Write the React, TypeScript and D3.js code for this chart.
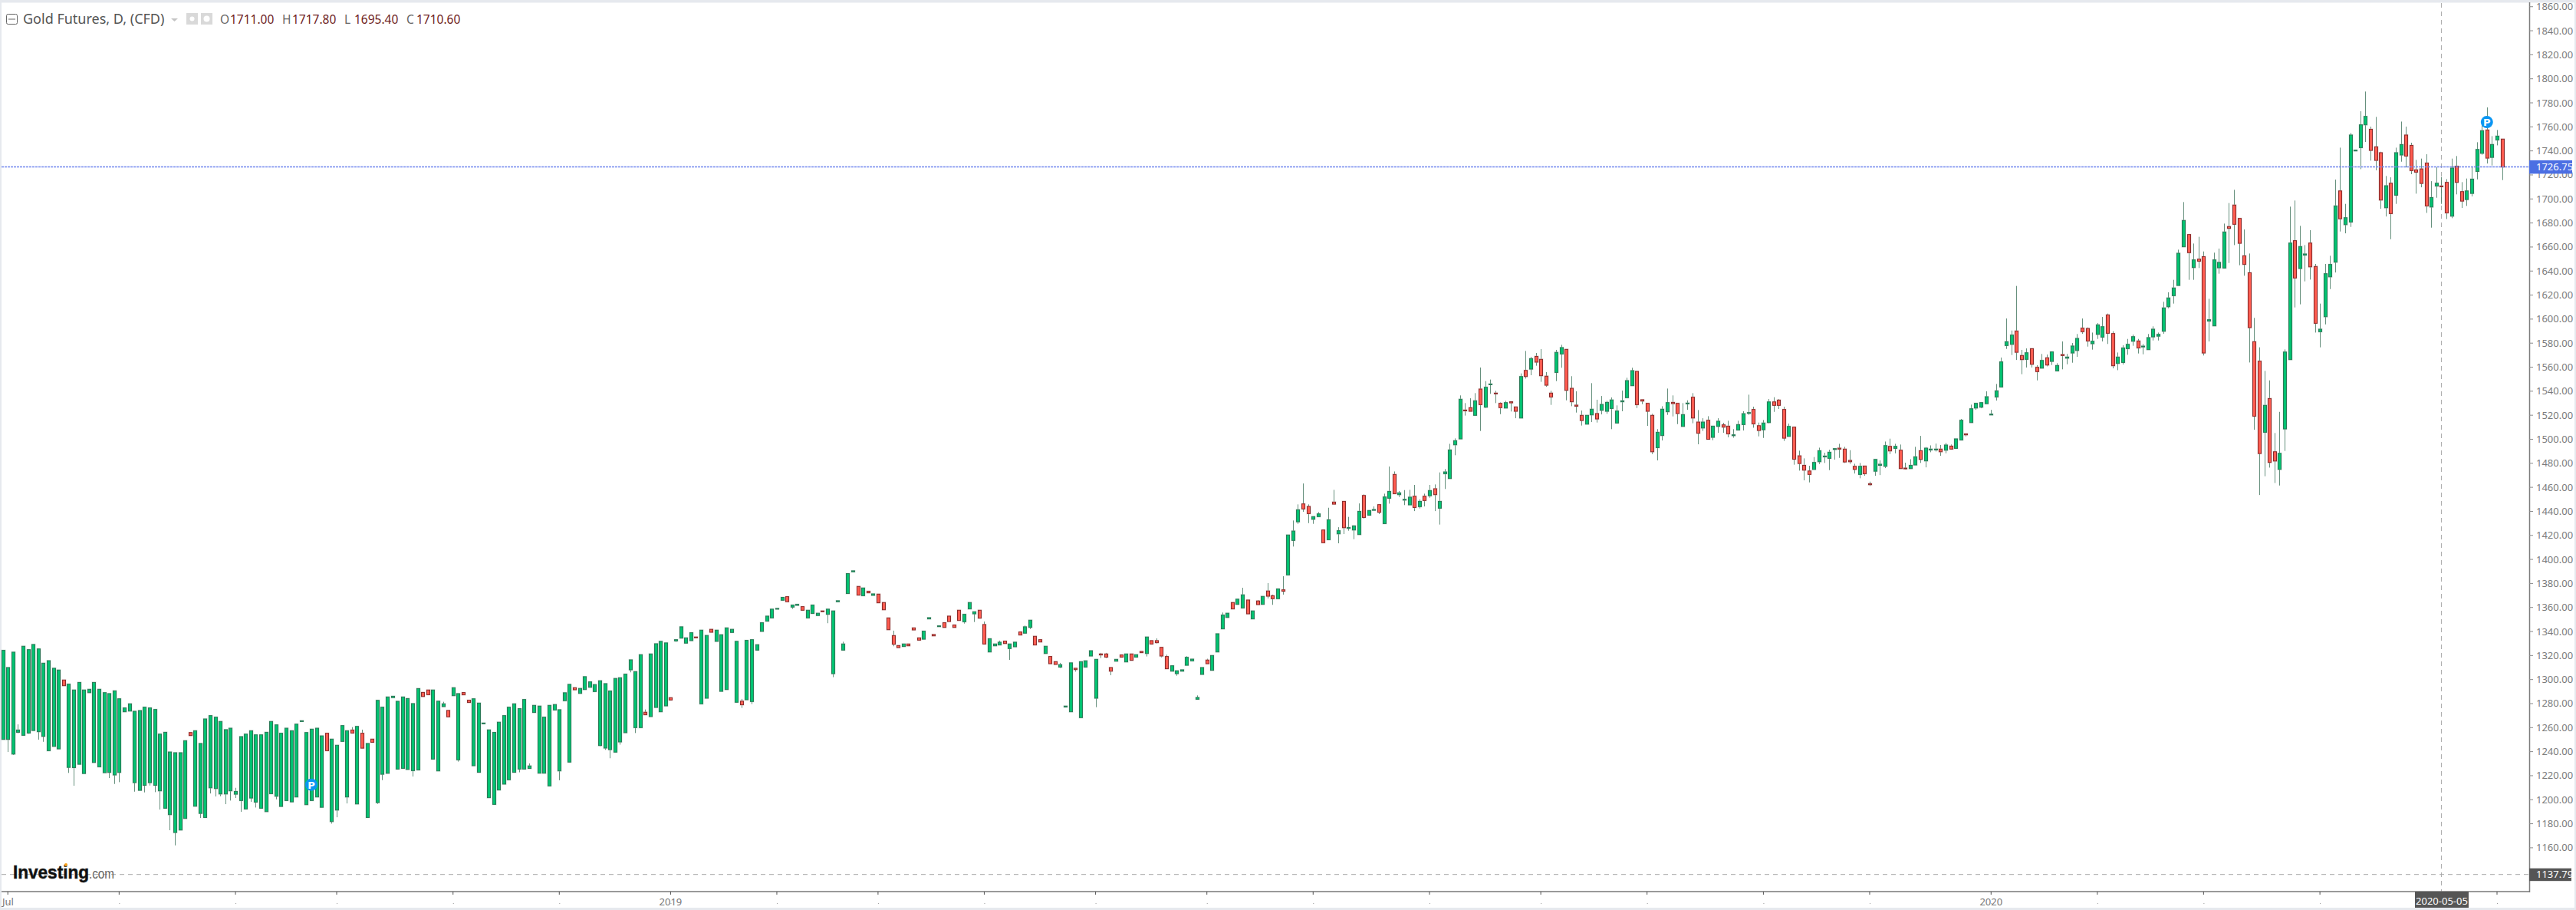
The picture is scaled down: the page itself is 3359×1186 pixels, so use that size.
import * as React from 'react'
import * as d3 from 'd3'

// rows are [open, high, low, close]
type Bar = number[]

const bars2018: Bar[] = [
  [1250.2,1324.3,1250.2,1324.3],[1250.2,1310,1239.7,1310],[1238,1322.8,1237.2,1322.8],[1256.1,1262.7,1255.3,1258],[1253.6,1327.7,1253.6,1327.7],
  [1255.5,1324.9,1254.9,1324.9],[1257.6,1329.2,1257.6,1329.2],[1256.6,1325.5,1250,1325.5],[1252.7,1313.6,1248.2,1313.6],[1240.8,1315.7,1240.8,1315.7],
  [1244.4,1309.4,1244.4,1309.4],[1242.3,1307.9,1242.3,1307.9],[1299.6,1299.6,1294.9,1294.9],[1226.9,1296.2,1222.3,1296.2],[1226.7,1291.3,1211.6,1291.3],
  [1229.5,1297.6,1229.5,1297.6],[1221.8,1291.3,1221.8,1291.3],[1289.1,1291.9,1289.1,1291.9],[1231,1297.6,1231,1297.6],[1227.4,1291.9,1227.4,1291.9],
  [1222.5,1289.1,1222.5,1289.1],[1222.7,1288.3,1218,1288.3],[1220.6,1290.6,1213.1,1290.6],[1222.7,1284,1214.6,1284],[1273.2,1276.4,1273.2,1276.4],
  [1273.8,1279.8,1273.8,1279.8],[1214.2,1273.6,1206.7,1273.6],[1207.8,1274.2,1207.8,1274.2],[1212,1277,1206.1,1277],[1214.2,1276.4,1211.8,1276.4],
  [1212,1275.1,1206.3,1275.1],[1207.4,1254.6,1191.8,1254.6],[1192.9,1256.1,1192.9,1256.1],[1187.6,1239.7,1174.6,1239.7],[1172.7,1239.1,1162,1239.1],
  [1174.8,1239.1,1174.8,1239.1],[1184.4,1249.1,1184.4,1249.1],[1255.9,1255.9,1253.4,1253.4],[1194.6,1257.4,1194.6,1257.4],[1188.6,1246.8,1184.8,1246.8],
  [1185.2,1267.2,1185.2,1267.2],[1209.9,1270,1205.2,1270],[1209.3,1268.7,1202.7,1268.7],[1204.8,1265.1,1202.9,1265.1],[1204.8,1258.3,1196.3,1258.3],
  [1207.4,1259.5,1199.3,1259.5],[1204.6,1209.9,1201.4,1206.9],[1199.3,1252.5,1189.9,1252.5],[1192.3,1254.6,1192.3,1254.6],[1201.4,1257.4,1198.2,1257.4],
  [1198,1254,1193.5,1254],[1192.9,1254,1192.9,1254],[1190.1,1256.1,1190.1,1256.1],[1205,1265.1,1205,1265.1],[1202.9,1262.3,1200.3,1262.3],
  [1194.4,1255.3,1194.4,1255.3],[1199.3,1259.5,1199.3,1259.5],[1198.2,1257.4,1198.2,1257.4],[1202.3,1262.9,1202.3,1262.9],[1265.5,1265.7,1265.5,1265.7],
  [1195.9,1255.9,1195.9,1255.9],[1199.3,1258.7,1199.3,1258.7],[1202.3,1259.5,1202.3,1259.5],[1193.7,1253.1,1193.7,1253.1],[1255.3,1255.3,1240.8,1240.8],
  [1181.8,1250.4,1180.1,1250.4],[1191.4,1245.3,1185.4,1245.3],[1248.5,1261.7,1248.5,1261.7],[1202.3,1257.4,1196.9,1257.4],[1258,1260.4,1255.5,1255.5],
  [1196.5,1261,1196.5,1261],[1255.3,1258.3,1242.9,1242.9],[1185.2,1246.8,1185.2,1246.8],[1250.4,1250.4,1247.8,1247.8],[1197.6,1282.7,1196.5,1282.7],
  [1221.2,1277,1216.3,1277],[1222,1285.5,1222,1285.5],[1285,1286.1,1285,1286.1],[1225.5,1281.9,1225.5,1281.9],[1226.1,1285.5,1226.1,1285.5],
  [1225.2,1284.2,1225.2,1284.2],[1224.2,1280,1219.3,1280],[1224.8,1292.5,1224.8,1292.5],[1289.3,1289.3,1285.9,1285.9],[1291.3,1291.3,1287.4,1287.4],
  [1233.8,1291.3,1233.8,1291.3],[1224,1282,1224,1282],[1277.5,1281.5,1277.5,1279.8],[1274.3,1274.3,1269,1269],[1286.6,1293.2,1286.6,1293.2],
  [1233.2,1288.3,1231.7,1288.3],[1289.2,1289.2,1287.3,1287.3],[1282.8,1282.8,1280.9,1280.9],[1228.3,1284,1228.3,1284],[1222.8,1280.4,1222.8,1280.4],
  [1263.4,1263.8,1263.4,1263.8],[1201.7,1258.1,1201.7,1258.1],[1196.1,1256,1196.1,1256],[1208.1,1264.5,1208.1,1264.5],[1213,1270,1213,1270],
  [1216.6,1277,1216.6,1277],[1222.8,1279.8,1222.8,1279.8],[1225.5,1275.8,1222.8,1275.8],[1225.5,1283.4,1225.5,1283.4],[1226,1230.2,1226,1228.1],
  [1272.6,1278.5,1272.6,1278.5],[1222.1,1277.9,1222.1,1277.9],[1222.1,1268.7,1222.1,1268.7],[1211.5,1278.5,1211.5,1278.5],[1274.7,1279.2,1274.7,1279.2],
  [1224,1274.9,1216.2,1274.9],[1282.4,1289,1282.4,1289],[1231.3,1296,1231.3,1296],[1293.2,1293.2,1291.5,1291.5],[1288.5,1292.6,1288.5,1292.6],
  [1291.7,1302.4,1291.7,1302.4],[1293.6,1298.1,1293.6,1298.1],[1290,1295.8,1290,1295.8],[1245.1,1299,1244.5,1299],[1243,1296.6,1241.5,1296.6],
  [1241.7,1290.5,1234.5,1290.5],[1239.6,1300.9,1239.6,1300.9],[1248.1,1301.5,1245.8,1301.5],[1255.8,1304.5,1255.8,1304.5],[1308.1,1316.4,1306,1316.4],
  [1260,1306.6,1255.5,1306.6],[1260,1320.7,1260,1320.7],[1272.8,1275.1,1270.7,1270.7],[1269.2,1321.3,1269.2,1321.3],[1276.8,1329.8,1276.8,1329.8],
  [1273.2,1331.8,1273.2,1331.8],[1278.1,1330.5,1278.1,1330.5],
]

const bars2019a: Bar[] = [
  [1284.9,1284.9,1283,1283],[1332.2,1333.2,1331.3,1333.2],[1334.5,1343.9,1334.5,1343.9],[1330.3,1334.7,1330.3,1334.7],[1332.4,1339,1332.4,1339],
  [1335.4,1335.4,1335,1335],[1279.8,1341.1,1279.8,1341.1],[1284.5,1336.7,1284.5,1336.7],[1341.8,1341.8,1339.4,1339.4],[1331.8,1341.1,1331.8,1341.1],
  [1290.2,1337.3,1290.2,1337.3],[1291.7,1343,1291.7,1343],[1339.2,1341.8,1339.2,1341.8],[1281.1,1331.8,1281.1,1331.8],[1282,1283.9,1276.4,1279],
  [1283.2,1332.6,1283.2,1332.6],[1281.7,1333.2,1279.6,1333.2],[1324.5,1329,1324.5,1329],[1340.1,1347.3,1340.1,1347.3],[1348.6,1352.8,1348.6,1352.8],
  [1351.3,1358.6,1351.3,1358.6],[1359,1359.2,1359,1359.2],[1366,1368.4,1366,1368.4],[1369,1369,1364.8,1364.8],[1360.3,1362,1358.8,1362],
  [1361.8,1362.6,1361.8,1362.6],[1360.7,1360.7,1357.7,1357.7],[1351.3,1357.7,1351.3,1357.7],[1355,1362,1355,1362],[1353.3,1355.2,1353.3,1355.2],
  [1357.1,1357.1,1356.9,1356.9],[1354.3,1358.6,1346.9,1358.6],[1304.9,1357.1,1302,1357.1],[1364.8,1365.6,1364.8,1365.6],[1324.5,1331.5,1324.5,1329.6],
  [1371.6,1388.2,1371.6,1388.2],[1389.7,1390.5,1389.7,1390.5],[1377.5,1377.5,1370.3,1370.3],[1369.8,1376.2,1369.8,1376.2],[1373.5,1373.5,1372.2,1372.2],
  [1370.1,1371.3,1370.1,1371.3],[1371.1,1371.1,1363.9,1363.9],[1364.1,1364.1,1358.1,1358.1],[1351.3,1351.3,1341.5,1341.5],[1336.6,1340.7,1327.7,1329.4],
  [1328.3,1328.3,1326.6,1326.6],[1327.5,1329.6,1327.5,1329.6],[1329.6,1329.6,1328.1,1328.1],[1343,1343,1341.3,1341.3],[1334.7,1334.7,1332.8,1332.8],
  [1333.6,1340.3,1333.6,1340.3],[1350.5,1351.5,1350.5,1351.5],[1337.5,1337.5,1336.4,1336.4],[1344.1,1344.7,1344.1,1344.7],[1347.3,1347.3,1343.4,1343.4],
  [1352.8,1352.8,1348.3,1348.3],[1345.4,1345.4,1343.4,1343.4],[1357.7,1357.7,1349.2,1349.2],[1348.1,1354.3,1346.6,1354.3],[1358.8,1364.1,1358.8,1364.1],
  [1354.7,1356.4,1347.9,1356.4],[1357.7,1357.7,1351.1,1351.1],[1345.8,1348.3,1329.6,1329.6],[1323,1334,1323,1334],[1328.1,1329.6,1328.1,1329.6],
  [1328.8,1332.4,1328.8,1331.1],[1332,1332,1330,1330],[1325.8,1329.6,1316.4,1329.6],[1327.3,1331.1,1327.3,1331.1],[1339.6,1339.6,1337.1,1337.1],
  [1338.6,1344.9,1338.6,1343.9],[1343.4,1349.4,1342,1349.4],[1336,1336,1328.8,1328.8],[1333.2,1333.2,1331.3,1331.3],[1321.7,1327.7,1321.7,1327.7],
  [1319.2,1319.2,1313.2,1313.2],[1314.9,1314.9,1312.6,1312.6],[1310.4,1313.9,1309.6,1312.4],[1277.2,1277.9,1277.2,1277.9],[1273.2,1313.9,1273.2,1313.9],
  [1309.4,1309.4,1306.6,1308.3],[1268.3,1314.9,1268.3,1314.9],[1310.4,1315.6,1310.4,1315.6],[1319.6,1324,1319.6,1324],[1284.5,1316.8,1277,1316.8],
  [1321.3,1322.2,1317.9,1320.5],[1321.3,1322.2,1317.9,1318.7],[1310,1310,1303.6,1307],[1315.3,1316.8,1315.3,1316.8],[1320.5,1320.5,1318.7,1318.7],
  [1314.7,1321.3,1314.7,1321.3],[1321.3,1321.3,1316,1316],[1318.7,1320.7,1318.7,1320.7],[1323.4,1323.4,1322.4,1322.4],[1321.7,1335.4,1319.2,1335.4],
  [1332.4,1332.4,1329.6,1329.6],[1332.4,1334.3,1330,1330.7],[1326.8,1326.8,1318.5,1319.6],[1319.2,1320.7,1309,1309],[1307,1311.5,1307,1311.5],
  [1304.9,1307.3,1303.2,1307.3],[1307,1308.1,1307,1308.1],[1311.9,1319.4,1311.9,1318.5],[1315.6,1317,1315.6,1317],[1283.6,1286.8,1283.6,1285.1],
  [1304.3,1310,1304.3,1310],[1316.2,1317.3,1313.2,1313.2],[1307.7,1320,1307.7,1320],[1323,1338.1,1323,1338.1],[1342.2,1355.8,1342.2,1353.7],
  [1351.7,1355.2,1351.7,1355.2],[1364.1,1364.1,1358.8,1358.8],[1362.6,1366.9,1362.6,1366.9],[1359.6,1376.4,1359.6,1370.5],[1366.2,1366.2,1354.7,1354.7],
  [1350.5,1357.1,1350.5,1357.1],[1365.4,1366.2,1362.4,1362.4],[1362.6,1369.2,1362.6,1369.2],[1373.7,1380.3,1367.5,1369.4],[1369.8,1370.7,1362.2,1367.3],
  [1367.3,1375.4,1367.3,1375.4],[1374.7,1386,1370.7,1373.5],[1387.1,1420.3,1387.1,1420.3],
]

const bars2019b: Bar[] = [
  [1415.8,1432.4,1410.7,1423.6],[1431.3,1445.8,1429.6,1441.3],[1446.2,1463.2,1439.6,1442],[1444.1,1445.8,1430.2,1438.1],[1433.4,1435.6,1429.6,1435.6],
  [1435.6,1439.4,1435.6,1437.9],[1424.5,1424.5,1413.9,1413.9],[1416.4,1443,1416.4,1433],[1447.7,1457.9,1446,1446],[1421.3,1426.8,1413.4,1423.9],
  [1448.3,1448.3,1421.1,1426.4],[1425.8,1435.4,1423.9,1426.6],[1424.5,1428.3,1416.8,1427.9],[1420.7,1446.6,1420.7,1440],[1453.2,1454.1,1434,1434.9],
  [1436.8,1440.7,1436.8,1440.7],[1441.1,1444.1,1441.1,1441.5],[1445.6,1445.6,1437.7,1439.2],[1429.8,1454.7,1429.8,1452],[1450.9,1477.3,1446.4,1456.6],
  [1470.7,1473.2,1454.7,1454.7],[1453.9,1456.9,1452,1455.4],[1449.4,1457.7,1445.2,1450],[1445.4,1457.9,1445.4,1451.8],[1452.6,1462,1440.2,1443.2],
  [1443.9,1450,1442.4,1448.3],[1452.6,1454.7,1444.1,1449],[1453,1462,1451.3,1457.3],[1458.8,1462.4,1440.2,1453.9],[1442.6,1472.4,1429,1448.3],
  [1471.3,1475.2,1458.6,1472.8],[1467.3,1496.2,1467.3,1491.1],[1495.4,1500.7,1486.7,1498.8],[1500.3,1536.5,1500.3,1533.3],[1524.3,1530.1,1519.7,1523.7],
  [1526.3,1534.1,1523.3,1523.3],[1519.9,1538.4,1519.9,1532],[1541.8,1559.7,1506.9,1528.8],[1526.7,1548.4,1526,1543.3],[1545.6,1549.7,1537.8,1546],
  [1538.4,1540.3,1530.1,1538],[1529.9,1530.7,1520.9,1526.3],[1526,1532,1526,1530.5],[1531.2,1531.2,1523.1,1530.3],[1526.9,1526.9,1517.5,1523.3],
  [1517.7,1554.8,1517.7,1552.2],[1557.3,1573.5,1550.5,1552.2],[1558.4,1568.6,1553.3,1567.1],[1569,1571.8,1561.2,1564.2],[1566.5,1575,1547.8,1552.9],
  [1552.5,1555.9,1543.7,1545],[1538.4,1540.3,1528.6,1535.2],[1555.6,1574.4,1548.4,1572.3],[1571,1578.6,1559.5,1576.3],[1574.8,1574.8,1532.4,1540.7],
  [1542.4,1552.5,1527.5,1531.2],[1528.4,1539.9,1522.2,1527.5],[1519.9,1523.9,1511.4,1515.6],[1512.6,1519.9,1512.6,1519.9],[1520.3,1546.7,1514.3,1525],
  [1521.4,1532.9,1513.9,1516.9],[1524.1,1536,1520.7,1529],[1523.3,1532,1521.2,1530.7],[1525.6,1534.8,1508.4,1532.7],[1513.5,1528.2,1513.5,1523.5],
  [1531.2,1540.5,1523.3,1532],[1534.6,1551.2,1534.6,1548.8],[1544.6,1559.5,1544.6,1557.1],[1556.5,1556.5,1526,1528.8],[1532.9,1532.9,1529.2,1531.8],
  [1529.9,1529.9,1511.1,1523.3],[1519.9,1521.2,1487.7,1489.6],[1493,1508.4,1482.4,1505.8],[1503.1,1527.5,1499,1525],[1522.9,1542.2,1520.3,1530.5],
  [1530.7,1536.5,1519,1529.7],[1529.9,1529.9,1512.6,1521.4],[1510.7,1530.1,1510.7,1520.5],[1529.6,1532.4,1524.5,1530.1],[1535,1538.4,1513.3,1517.7],
  [1514.3,1524.3,1495.8,1505],[1509.4,1517.5,1506.9,1514.3],[1515.8,1519.2,1500,1500],[1501.6,1510.9,1499.2,1510.9],[1510.7,1517.5,1505.4,1515],
  [1512,1513.7,1505.4,1510.1],[1510.9,1515.4,1501.6,1504.5],[1503,1508.4,1501.3,1503.7],[1507.7,1515.4,1507.7,1512.2],[1512.2,1523.3,1507.3,1521.3],
  [1521.8,1537.1,1520.3,1522.2],[1524.8,1527.1,1509.6,1512.8],[1511.3,1513.9,1502.4,1507.3],[1507.9,1516,1501.1,1513.5],[1513.9,1533.5,1513.3,1531.1],
  [1531.1,1535,1522.8,1528.2],[1532.6,1533.5,1525.2,1528.2],[1524.8,1527.1,1498.6,1500.9],[1502.4,1513,1502.4,1510.7],[1510.1,1510.1,1478.8,1483.4],
  [1486.2,1490.5,1473.9,1479.8],[1478.3,1484.1,1465.8,1474.3],[1473.6,1477.9,1464.1,1470.7],[1474.9,1485.2,1474.9,1480.7],[1481.3,1493,1479.4,1490.5],
  [1485.4,1488.8,1480.3,1486],[1484.1,1491.3,1474.3,1489.2],[1491.5,1492.6,1483,1492.2],[1492.6,1496.2,1484.5,1491.8],[1491.8,1493.7,1480.3,1481.1],
  [1482.4,1490.9,1479.6,1481.3],[1477.5,1479.6,1471.5,1474.9],[1470.7,1480.3,1467.5,1477.5],[1477.7,1477.7,1469.6,1471.3],[1463,1464.7,1461.1,1462.2],
  [1473.4,1483.2,1469.6,1483.2],[1478.3,1482.4,1470.2,1479.2],[1477.5,1498.1,1476,1494.7],[1494.1,1500.5,1487.7,1490.3],[1492.4,1496.2,1488.3,1494.1],
  [1490.9,1495.6,1475.6,1475.6],[1476,1480.5,1474.9,1475.4],[1475.6,1483.4,1475.6,1478.3],[1478.6,1493.7,1478.6,1485.4],[1490.5,1502.8,1480.3,1483.2],
  [1482,1493.5,1476.6,1492.6],[1491.1,1494.9,1489.2,1491.8],[1491.3,1496.4,1489.8,1491.8],[1491.8,1495.2,1486.2,1489.6],[1490.9,1496.9,1488.3,1495.2],
  [1494.3,1495.6,1491.8,1491.8],[1492.4,1500.3,1492.4,1500.3],[1499.4,1516.9,1499.4,1515.8],[1504.5,1504.5,1502.4,1503.7],[1513.9,1528.8,1513.9,1525.4],
  [1526,1529.9,1524.5,1529.9],[1526.7,1530.5,1525.8,1530.5],[1529.6,1539.9,1529.6,1535.4],
]

const bars2020: Bar[] = [
  [1520.3,1524.5,1520.3,1520.9],[1535.2,1546,1532.2,1540.3],[1543.5,1568,1543.5,1564.4],[1578,1600.5,1575.2,1581.2],[1579,1590.5,1570.1,1586.7],
  [1590.1,1627.6,1566,1572.4],[1569.7,1574.4,1554.1,1566.3],[1566.5,1575.6,1559.7,1572],[1575.4,1575.4,1559.7,1562.4],[1559.9,1561.6,1549,1556.3],
  [1559.2,1571,1559.2,1565.6],[1567.8,1570.5,1560.7,1561.8],[1564.8,1572.7,1561.8,1572.7],[1556.9,1563.3,1556.9,1561.4],[1570.5,1581.4,1558.2,1569.7],
  [1567.5,1571,1562.4,1568.4],[1571.8,1580.1,1563.7,1577.6],[1573.9,1587.6,1568.6,1583.9],[1592.5,1600.5,1587.8,1589.5],[1592.2,1593.1,1577.1,1581.8],
  [1579.5,1588.8,1574.6,1581.6],[1587.3,1596.7,1583.5,1595.2],[1585,1601.8,1581.4,1593.7],[1603.5,1604.6,1579.3,1588.2],[1588,1589.9,1559,1561.2],
  [1563.1,1572.2,1557.5,1568.4],[1563.9,1578.2,1562.2,1576],[1575.4,1583.5,1570.3,1579],[1581.6,1587.1,1577.8,1585.4],[1581.8,1583.5,1571.4,1576],
  [1576.9,1579.2,1570.7,1577.5],[1574.6,1587.6,1574.6,1584.6],[1585.2,1594,1582.2,1591.6],[1585.8,1588.8,1582.2,1587.3],[1589.9,1614.4,1587.8,1609.3],
  [1610.3,1622.3,1609,1617.6],[1619.5,1632.7,1612.9,1625.9],[1628,1657.8,1628,1654.8],[1660.2,1697.4,1660.2,1682.1],[1670.4,1670.4,1632.7,1655.3],
  [1642.9,1662.9,1632.7,1649.3],[1649.9,1668.5,1642.5,1648.2],[1652,1656.3,1569.7,1571.8],[1598.4,1616.9,1581.4,1599.5],[1594.4,1655.3,1594.4,1649.3],
  [1642.7,1658.7,1637.8,1647.2],[1642.5,1679.5,1642.5,1672.5],[1677,1696.6,1646.7,1675.5],[1694.9,1707.6,1661.6,1678.9],[1683.8,1683.8,1644.8,1663.1],
  [1652.7,1674.6,1636.1,1645.5],[1638.6,1654.6,1563.9,1592.9],[1581.2,1601,1507.9,1519.2],[1565,1576.5,1453.6,1488.1],[1505.8,1556.9,1469.2,1528.2],
  [1533.9,1549,1476.4,1480.7],[1489.6,1505.2,1463.6,1481.9],[1474.9,1522.8,1461.5,1488.3],[1508.6,1574.8,1490.3,1572.6],[1566.3,1693.6,1566.3,1663.3],
  [1665.3,1698.7,1609.7,1634.2],[1642.1,1677.6,1612.3,1660.4],[1653.3,1661.6,1631.4,1654.2],[1663.3,1674,1632.9,1643.5],[1643.8,1645.9,1588.8,1596.5],
  [1589.5,1612.9,1576.5,1591.6],[1602,1645.9,1595.6,1637.8],[1635.2,1652.7,1625,1645.5],[1647.4,1716.1,1638.8,1694.2],[1706.7,1742.7,1672.9,1683.5],
  [1678.6,1695.9,1671.4,1684.4],[1680.8,1754.9,1676.7,1753.2],[1740.2,1740.6,1740.2,1740.6],[1742.7,1773,1724.8,1761.7],[1761.7,1789.4,1747.4,1768.7],
  [1758,1760.2,1731.9,1740.4],[1743.4,1768.3,1723.8,1732.1],[1738.5,1739.3,1691.8,1699.1],[1692.7,1719.1,1685.4,1711],[1713.1,1718,1666.5,1687.8],
  [1703.1,1742.7,1695.9,1738.5],[1736.6,1764.4,1731,1745.3],[1753.2,1760.2,1726.3,1735.7],[1744.6,1746.8,1720.6,1723.6],[1724.2,1732.5,1704.4,1722.3],
  [1725,1733.6,1709.7,1712.9],[1729.9,1737.2,1688.4,1694.2],[1693.3,1714.8,1676.1,1701.2],[1710.8,1726.3,1701,1713.1],[1710.8,1718.2,1695.9,1710.2],
  [1713.8,1716.5,1683.3,1688.4],[1685.7,1733.6,1684,1725.7],[1727.2,1735.7,1703.8,1713.8],[1706.1,1714,1692.5,1698.2],[1699.5,1717,1694.2,1706.7],
  [1704.6,1726.8,1702.1,1716.5],[1722.9,1747.2,1716.3,1741.2],[1738,1761.9,1736.8,1756.8],[1757.4,1776.2,1729.5,1734],[1734.6,1752.3,1727.8,1745.3],
  [1749.1,1757.4,1744.6,1752.3],[1749.8,1749.8,1715.7,1726.6],
]

const bars = [...bars2018, ...bars2019a, ...bars2019b, ...bars2020]

const priceTicks = d3.range(1160, 1861, 20)
const monthTicks = [1, 23, 46, 66, 89, 110, 132, 153, 173, 194, 216, 238, 259, 282, 304, 325, 348, 369, 393, 414, 435, 458, 479, 493]
const monthLabels = [{ index: 132, text: '2019' }, { index: 393, text: '2020' }]
const pMarkers = [{ index: 61, price: 1212.5 }, { index: 491, price: 1764 }]
const ohlcLegend = [['O', '1711.00'], ['H', '1717.80'], ['L', '1695.40'], ['C', '1710.60']]
const lastPrice = 1726.75
const lowPrice = 1137.79
const crossIndex = 482

const W = 3359
const H = 1186
const plotRight = 3298
const plotBottom = 1162
const font = 'Tahoma, "Noto Sans", sans-serif'

const x = d3.scaleLinear().domain([0, 494]).range([3.6, 3262.6])
const y = d3.scaleLinear().domain([1160, 1800]).range([1104.9, 102.7])

const UP = { fill: '#03c271', stroke: '#2a7a57', halo: '#a9c7b9' }
const DOWN = { fill: '#ff5c50', stroke: '#8a2b2b', halo: '#d9b3af' }

const Candle = ({ bar, index }: { bar: Bar; index: number }) => {
  const [o, h, l, c] = bar
  const style = c >= o ? UP : DOWN
  const cx = Math.round(x(index))
  const top = y(Math.max(o, c))
  const bottom = y(Math.min(o, c))
  return (
    <g>
      <line x1={cx + 0.5} x2={cx + 0.5} y1={y(h)} y2={y(l)} stroke="#4b7c66" strokeOpacity={0.85} />
      <rect x={cx - 2.5} y={top - 1} width={6} height={bottom - top + 2} fill={style.halo} fillOpacity={0.5} />
      <rect x={cx - 1.5} y={top} width={4} height={Math.max(bottom - top, 1)} fill={style.fill} stroke={style.stroke} />
    </g>
  )
}

const App = () => {
  return (
    <svg width={W} height={H} style={{ position: 'absolute', left: 0, top: 0, display: 'block' }} fontFamily={font}>
      <rect width={W} height={H} fill="#ffffff" />
      {/* page frame */}
      <rect width={W} height={3.5} fill="#e6e9ee" />
      <rect width={2} height={H} fill="#e6e9ee" />
      <rect y={1183} width={W} height={3} fill="#e6e9ee" />
      <rect x={3357} width={2} height={H} fill="#e6e9ee" />

      {/* crosshair and guide lines */}
      <line x1={x(crossIndex)} x2={x(crossIndex)} y1={4} y2={plotBottom} stroke="#a8a8a8" strokeDasharray="6 5" />
      <line x1={2} x2={plotRight} y1={y(lowPrice)} y2={y(lowPrice)} stroke="#a8a8a8" strokeDasharray="6 5" />

      {bars.map((bar, i) => <Candle key={i} bar={bar} index={i} />)}

      <line x1={2} x2={plotRight} y1={Math.round(y(lastPrice)) + 0.5} y2={Math.round(y(lastPrice)) + 0.5} stroke="#7489ee" strokeWidth={1.5} strokeDasharray="3 1" />

      {pMarkers.map((m) => (
        <g key={m.index} transform={`translate(${x(m.index)},${y(m.price)})`}>
          <circle r={8} fill="#0a96f2" />
          <text textAnchor="middle" y={5} fontSize={13} fontWeight={700} fill="#ffffff" fontFamily="DejaVu Sans">P</text>
        </g>
      ))}

      {/* right axis */}
      <line x1={plotRight + 0.5} x2={plotRight + 0.5} y1={3} y2={plotBottom + 1} stroke="#7c7c7c" strokeWidth={1.5} />
      {priceTicks.map((t) => (
        <g key={t}>
          <line x1={plotRight} x2={plotRight + 5} y1={y(t)} y2={y(t)} stroke="#8a8a8a" />
          <text x={3307} y={y(t) + 4.5} fontSize={13} fill="#7b7b7b">{t.toFixed(2)}</text>
        </g>
      ))}
      <rect x={plotRight} y={y(lastPrice) - 8.5} width={56} height={17.5} fill="#4c6fe3" />
      <text x={3307} y={y(lastPrice) + 5} fontSize={13} fill="#ffffff">{lastPrice.toFixed(2)}</text>
      <rect x={plotRight} y={y(lowPrice) - 8} width={55} height={16.5} fill="#555555" />
      <text x={3307} y={y(lowPrice) + 4.5} fontSize={13} fill="#ffffff">{lowPrice.toFixed(2)}</text>

      {/* bottom axis */}
      <line x1={2} x2={plotRight + 1} y1={plotBottom} y2={plotBottom} stroke="#777777" strokeWidth={1.5} />
      {monthTicks.map((t) => (
        <g key={t}>
          <line x1={x(t)} x2={x(t)} y1={plotBottom} y2={plotBottom + 4} stroke="#555555" />
          <rect x={x(t)} y={1177} width={1} height={1} fill="#9a9a9a" />
        </g>
      ))}
      <text x={3} y={1180} fontSize={13} fill="#777777">Jul</text>
      {monthLabels.map((m) => (
        <text key={m.text} x={x(m.index)} y={1180} textAnchor="middle" fontSize={13} fill="#777777">{m.text}</text>
      ))}
      <rect x={3149} y={plotBottom} width={70} height={21} fill="#555555" />
      <text x={3184} y={1179} textAnchor="middle" fontSize={13} fill="#ffffff">2020-05-05</text>

      {/* legend */}
      <rect x={8.5} y={18.5} width={14} height={13} rx={2} fill="none" stroke="#666666" />
      <line x1={11} x2={20} y1={25} y2={25} stroke="#666666" />
      <text x={30} y={31} fontSize={18} fill="#555555">Gold Futures, D, (CFD)</text>
      <path d={d3.line()([[223, 24], [232, 24], [227.5, 28]]) + 'Z'} fill="#c4c4c4" />
      <rect x={243} y={17} width={15} height={15} fill="#d9d9d9" />
      <rect x={262} y={17} width={15} height={15} fill="#d9d9d9" />
      <circle cx={250.5} cy={24.5} r={3} fill="#ffffff" />
      <circle cx={269.5} cy={24.5} r={4} fill="#ffffff" />
      {ohlcLegend.map(([k, v], i) => (
        <g key={k} fontSize={15.5}>
          <text x={287 + i * 81} y={31} fill="#666666">{k}</text>
          <text x={300 + i * 81} y={31} fill="#6f2323">{v}</text>
        </g>
      ))}

      {/* logo */}
      <text x={17} y={1145} fontFamily="Liberation Sans" fontSize={24} fontWeight={700} fill="#111111" stroke="#111111" strokeWidth={0.5} textLength={99} lengthAdjust="spacingAndGlyphs">Investing</text>
      <circle cx={86} cy={1127} r={2} fill="#f7a11a" />
      <text x={116} y={1145} fontFamily="Liberation Sans" fontSize={19} fill="#666666" textLength={33} lengthAdjust="spacingAndGlyphs">.com</text>
    </svg>
  )
}

export default App
